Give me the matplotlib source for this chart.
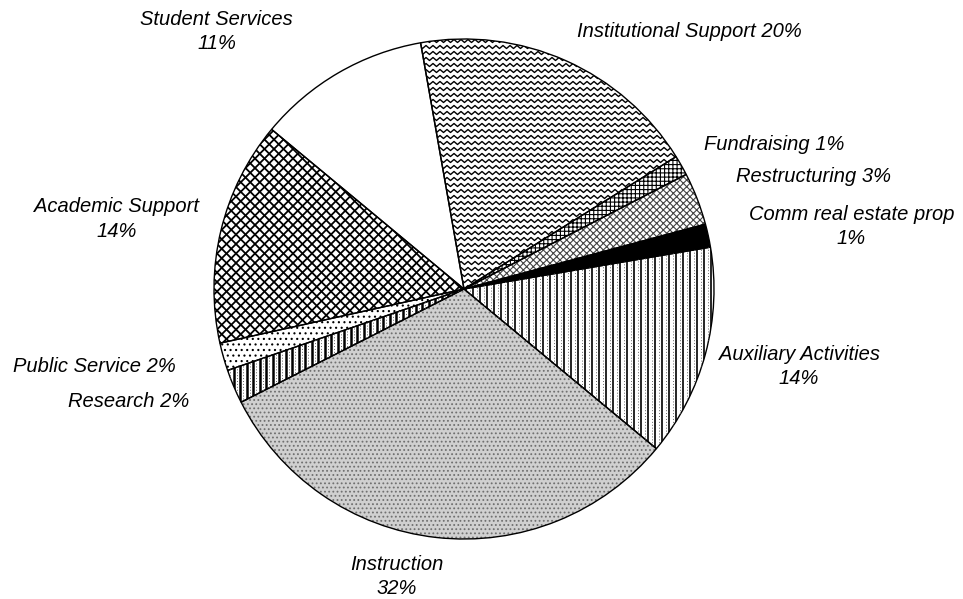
import matplotlib.pyplot as plt
import numpy as np
from matplotlib.collections import LineCollection

# budget categories, clockwise from the top
categories = ["Institutional Support", "Fundraising", "Restructuring",
              "Comm real estate prop", "Auxiliary Activities", "Instruction",
              "Research", "Public Service", "Academic Support", "Student Services"]
# slice sizes (labels show rounded values)
shares = [18.9, 1.3, 3.4, 1.5, 13.7, 31.5, 2.2, 1.8, 14.5, 11.2]
label_text = ["Institutional Support 20%", "Fundraising 1%", "Restructuring 3%",
              "Comm real estate prop\n1%", "Auxiliary Activities\n14%",
              "Instruction\n32%", "Research 2%", "Public Service 2%",
              "Academic Support\n14%", "Student Services\n11%"]

# label positions in pie units (radius = 1)
label_pos = [(0.90, 1.03), (1.24, 0.58), (1.40, 0.45), (1.55, 0.25),
             (1.34, -0.31), (-0.27, -1.15), (-1.34, -0.45), (-1.48, -0.31),
             (-1.39, 0.28), (-0.99, 1.03)]

plt.rcParams['font.family'] = ['Liberation Sans', 'DejaVu Sans']
plt.rcParams['hatch.linewidth'] = 0.8

fig = plt.figure(figsize=(9.63, 5.99), dpi=100)
ax = fig.add_axes([214 / 963, 60 / 599, 500 / 963, 500 / 599])

fills = ['white', 'white', 'white', 'black', 'white', '#d0d0d0',
         'white', 'white', 'white', 'white']
wedges, _ = ax.pie(shares, startangle=100, counterclock=False, radius=1,
                   colors=fills, wedgeprops=dict(linewidth=0))
ax.set_xlim(-1, 1)
ax.set_ylim(-1, 1)

# simple hatches
hatch_spec = {1: ('++++', 'black'), 2: ('xxxxx', '#444444'),
              5: ('....', '#707070'), 7: ('...', 'black')}
for i, (h, c) in hatch_spec.items():
    wedges[i].set_hatch(h)
    wedges[i].set_edgecolor(c)


def clip_lines(wedge, segs, **kw):
    lc = LineCollection(segs, **kw)
    lc.set_clip_path(wedge)
    ax.add_collection(lc)


# wavy lines for institutional support
xs = np.arange(-1.02, 1.02, 0.014)
wave = 0.006 * (-1) ** np.arange(len(xs))
zig = [np.column_stack([xs, y + wave]) for y in np.arange(-1, 1.01, 0.024)]
clip_lines(wedges[0], zig, colors='black', linewidths=1.0)

# vertical stripes for auxiliary and research
def stripes(wedge, step, lw):
    xv = np.arange(-1, 1.01, step)
    solid = [[(x, -1), (x, 1)] for x in xv]
    dots = [[(x + step / 2, -1), (x + step / 2, 1)] for x in xv]
    clip_lines(wedge, solid, colors='black', linewidths=lw)
    clip_lines(wedge, dots, colors='#666666', linewidths=0.7, linestyles=(0, (1, 2)))


stripes(wedges[4], 0.028, 1.2)
stripes(wedges[6], 0.026, 1.8)

# coarse diagonal cross-hatch for academic support
cs = np.arange(-2.1, 2.1, 0.038)
diag = [[(-1, -1 + c), (1, 1 + c)] for c in cs] + [[(-1, 1 + c), (1, -1 + c)] for c in cs]
clip_lines(wedges[8], diag, colors='black', linewidths=1.3)

# outlines
ax.pie(shares, startangle=100, counterclock=False, radius=1,
       colors=['none'] * len(shares),
       wedgeprops=dict(edgecolor='black', linewidth=1.0))
ax.set_xlim(-1, 1)
ax.set_ylim(-1, 1)

for txt, (x, y) in zip(label_text, label_pos):
    ax.text(x, y, txt, ha='center', va='center', style='italic',
            fontsize=14.5, linespacing=1.35, clip_on=False)

fig.savefig('out.png', dpi=100)
